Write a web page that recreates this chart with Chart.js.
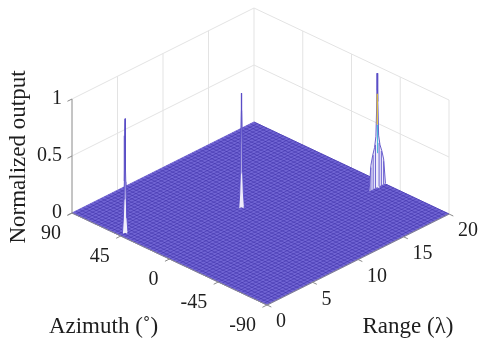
<!DOCTYPE html>
<html>
<head>
<meta charset="utf-8">
<script src="https://cdn.jsdelivr.net/npm/chart.js@4"></script>
<style>
html,body{margin:0;padding:0;background:#fff}
</style>
</head>
<body>
<canvas id="surfChart" width="478" height="343"></canvas>
<script>
const azimuthTicks = [90, 45, 0, -45, -90]
const rangeTicks = [0, 5, 10, 15, 20]
const outputTicks = [0, 0.5, 1]

// three point targets: azimuth (deg), range (lambda), normalized peak
const targetAzimuth = [46, 15, -30.5]
const targetRange = [0.6, 9.7, 19.2]
const targetPeak = [1, 1, 1]

// main lobe cut along range (lambda offset, height relative to peak)
const lobeOffset = [-0.3, -0.2, -0.12, -0.06, -0.02, 0, 0.02, 0.06, 0.12, 0.2, 0.3]
const lobeHeight = [0, 0.12, 0.3, 0.55, 0.85, 1, 0.85, 0.55, 0.3, 0.12, 0]
// cut along azimuth (deg offset)
const azLobeOffset = [-2.5, -1.5, -0.7, -0.2, 0, 0.2, 0.7, 1.5, 2.5]
const azLobeHeight = [0, 0.15, 0.45, 0.85, 1, 0.85, 0.45, 0.15, 0]
// the far target shows sidelobes
const sideOffset = [-0.9, -0.7, -0.5, -0.3, -0.15, -0.05, 0, 0.05, 0.15, 0.3, 0.5, 0.7, 0.9]
const sideHeight = [0, 0.22, 0.3, 0.36, 0.45, 0.75, 1, 0.75, 0.45, 0.36, 0.3, 0.22, 0]
const stripeOffset = [-0.7, -0.45, -0.2, 0.2, 0.45, 0.7]
const stripeHeight = [0.2, 0.3, 0.38, 0.38, 0.3, 0.2]

const view = {x0:72, y0:213, ux:182, uy:-91, vx:195, vy:92, zh:114}

function proj(az, r, z){
  const u = r / 20
  const v = (90 - az) / 180
  return {
    x: view.x0 + view.ux * u + view.vx * v,
    y: view.y0 + view.uy * u + view.vy * v - view.zh * z
  }
}

function segments(list){
  const pts = []
  list.forEach(s=>{
    pts.push(proj(...s[0]))
    pts.push(proj(...s[1]))
    pts.push({x:null, y:null})
  })
  return pts
}

// back wall grid
const gridSegs = []
rangeTicks.slice(1).forEach(r=>{
  gridSegs.push([[90, r, 0], [90, r, 1]])
})
azimuthTicks.slice(1).forEach(a=>{
  gridSegs.push([[a, 20, 0], [a, 20, 1]])
})
outputTicks.slice(1).forEach(z=>{
  gridSegs.push([[90, 0, z], [90, 20, z]])
  gridSegs.push([[90, 20, z], [-90, 20, z]])
})

// surface mesh at z = 0
const meshSegs = []
for(let r = 0.4; r < 20; r += 0.4){
  meshSegs.push([[90, r, 0], [-90, r, 0]])
}
for(let a = 87; a > -90; a -= 3){
  meshSegs.push([[a, 0, 0], [a, 20, 0]])
}

// axes lines and ticks
const axisSegs = [
  [[90, 0, 0], [-90, 0, 0]],
  [[-90, 0, 0], [-90, 20, 0]],
  [[90, 0, 0], [90, 0, 1]]
]
azimuthTicks.forEach(a=>axisSegs.push([[a, 0, 0], [a, -0.5, 0]]))
rangeTicks.forEach(r=>axisSegs.push([[-90, r, 0], [-94, r, 0]]))
outputTicks.forEach(z=>axisSegs.push([[90, 0, z], [90, -0.5, z]]))

const floorPts = [
  proj(90, 0, 0), proj(90, 20, 0), proj(-90, 20, 0), proj(-90, 0, 0), proj(90, 0, 0)
]

function rangeCut(i, offs, hts){
  return offs.map((d, k)=>proj(targetAzimuth[i], targetRange[i] + d, targetPeak[i] * hts[k]))
}
function azCut(i){
  return azLobeOffset.map((d, k)=>proj(targetAzimuth[i] + d, targetRange[i], targetPeak[i] * azLobeHeight[k]))
}

const lineSet = (data, color, width, order, extra) => Object.assign({
  data: data,
  showLine: true,
  pointRadius: 0,
  borderColor: color,
  borderWidth: width,
  fill: false,
  order: order
}, extra || {})

const spikeFill = '#efedfa'
const spikeEdge = '#5a4ec6'

const datasets = [
  lineSet(segments(gridSegs), '#e3e3e3', 1, 20),
  lineSet(floorPts, '#7064d2', 1, 15, {fill:'shape', backgroundColor:'#7165d4'}),
  lineSet(segments(meshSegs), 'rgba(50,38,160,0.45)', 1, 14),
  lineSet(segments(axisSegs), '#8a8a8a', 1, 13)
]

targetAzimuth.forEach((a, i)=>{
  const offs = i === 2 ? sideOffset : lobeOffset
  const hts = i === 2 ? sideHeight : lobeHeight
  datasets.push(lineSet(azCut(i), spikeEdge, 0.9, 9 - i * 2, {fill:'shape', backgroundColor:spikeFill}))
  datasets.push(lineSet(rangeCut(i, offs, hts), spikeEdge, 0.9, 8 - i * 2, {fill:'shape', backgroundColor:spikeFill}))
})

// stripes on the far target's sidelobes
datasets.push(lineSet(segments(stripeOffset.map((d, k)=>[
  [targetAzimuth[2], targetRange[2] + d, 0],
  [targetAzimuth[2], targetRange[2] + d, stripeHeight[k]]
])), '#6a5fd0', 1, 2))

// colour along the far peak
datasets.push(lineSet([
  proj(targetAzimuth[2], targetRange[2], 0.55),
  proj(targetAzimuth[2], targetRange[2], 0.82)
], '#e8c830', 1.2, 1))
datasets.push(lineSet([
  proj(targetAzimuth[2] - 0.3, targetRange[2], 0.3),
  proj(targetAzimuth[2] - 0.3, targetRange[2], 0.55)
], '#3fb7d6', 1, 1))

const serif = '"Liberation Serif", "Times New Roman", serif'

const axisText = {
  id: 'axisText',
  afterDatasetsDraw(chart){
    const {ctx, scales:{x, y}} = chart
    const px = p => [x.getPixelForValue(p.x), y.getPixelForValue(p.y)]
    ctx.save()
    ctx.fillStyle = '#1e1e1e'
    ctx.font = '20px ' + serif
    ctx.textBaseline = 'middle'

    ctx.textAlign = 'right'
    azimuthTicks.forEach(a=>{
      const [tx, ty] = px(proj(a, 0, 0))
      ctx.fillText(String(a), tx - 11, ty + 21)
    })
    outputTicks.forEach(z=>{
      const [tx, ty] = px(proj(90, 0, z))
      ctx.fillText(String(z), tx - 10, ty)
    })
    ctx.textAlign = 'left'
    rangeTicks.forEach(r=>{
      const [tx, ty] = px(proj(-90, r, 0))
      ctx.fillText(String(r), tx + 9, ty + 17)
    })

    ctx.font = '23px ' + serif
    ctx.textAlign = 'center'
    let [ax, ay] = px(proj(0, 0, 0))
    ctx.fillText('Azimuth (˚)', ax - 66, ay + 68)
    let [rx, ry] = px(proj(-90, 10, 0))
    ctx.fillText('Range (λ)', rx + 50, ry + 67)
    let [zx, zy] = px(proj(90, 0, 0.5))
    ctx.translate(zx - 53, zy + 1)
    ctx.rotate(-Math.PI / 2)
    ctx.fillText('Normalized output', 0, 0)
    ctx.restore()
  }
}

new Chart(document.getElementById('surfChart'), {
  type: 'scatter',
  data: { datasets: datasets },
  options: {
    responsive: false,
    animation: false,
    layout: { padding: 0 },
    plugins: {
      legend: { display: false },
      tooltip: { enabled: false }
    },
    scales: {
      x: { type: 'linear', min: 0, max: 478, display: false },
      y: { type: 'linear', min: 0, max: 343, reverse: true, display: false }
    }
  },
  plugins: [axisText]
})
</script>
</body>
</html>
